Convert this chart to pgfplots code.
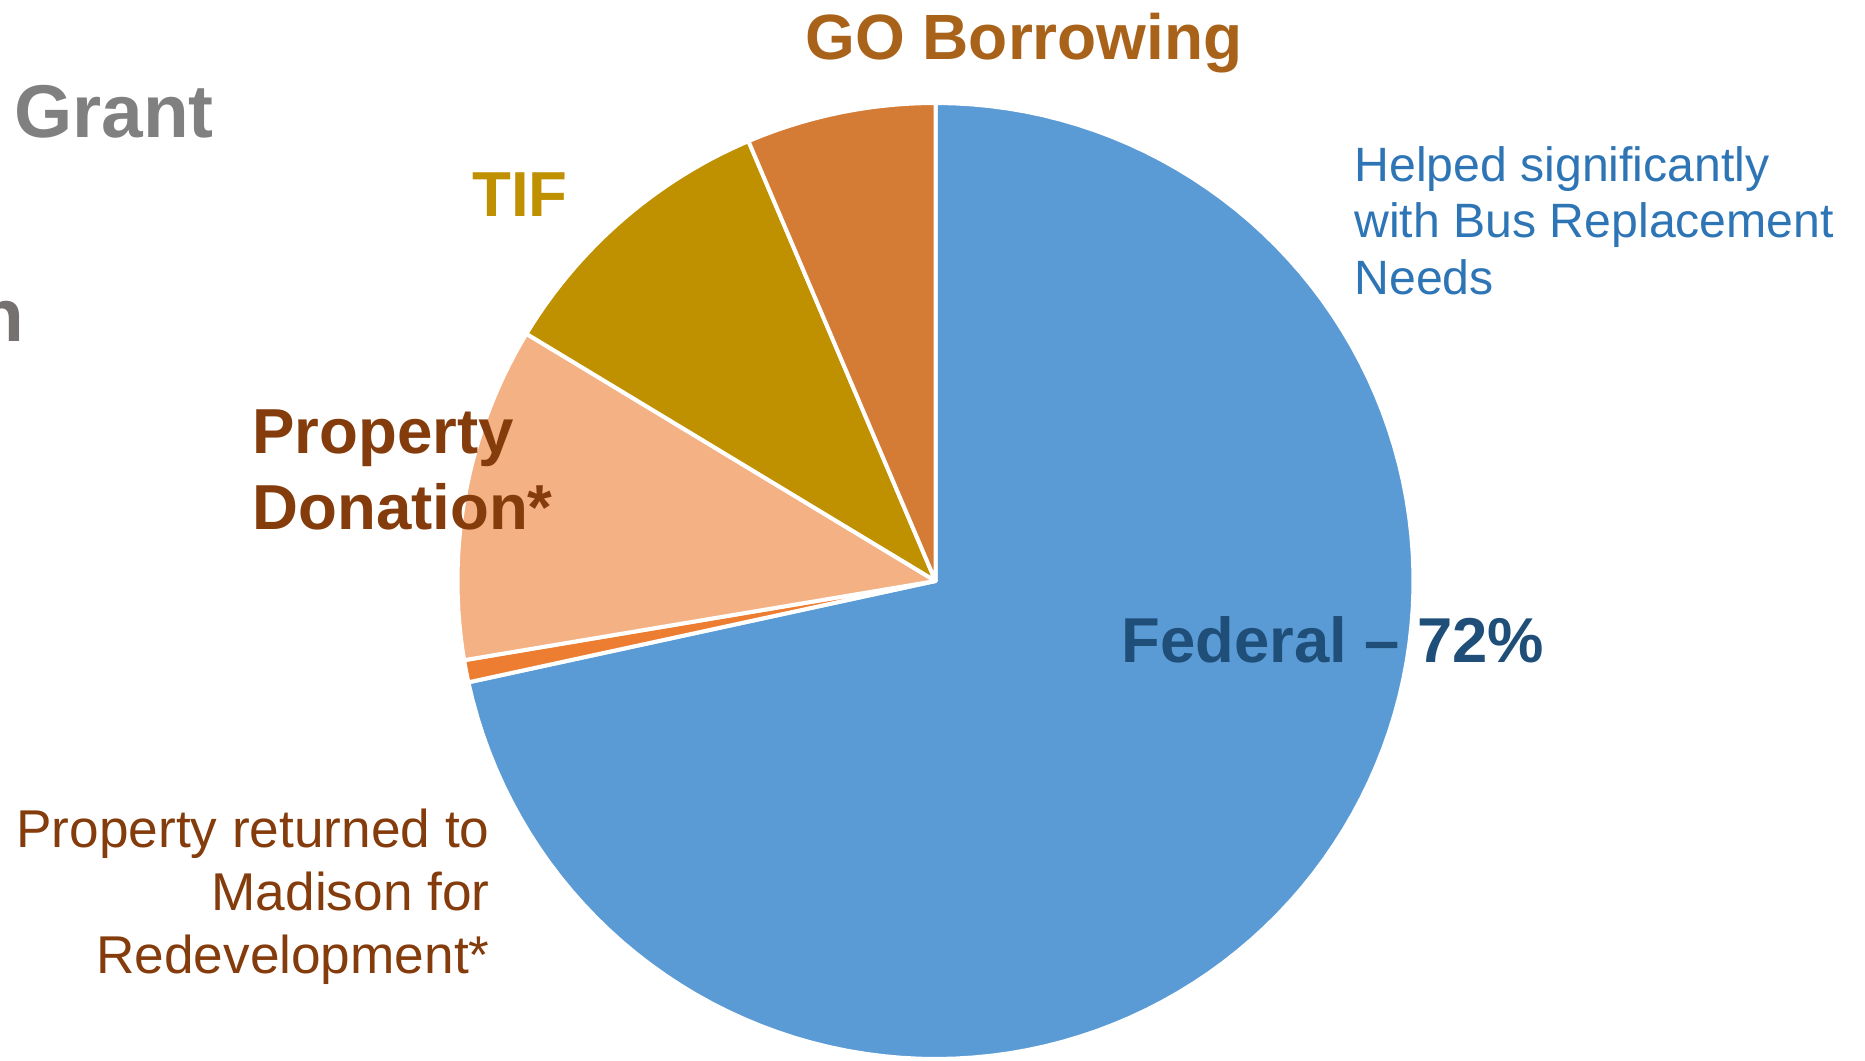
\documentclass[border=0pt]{standalone}
\usepackage{pgfplots}
\pgfplotsset{compat=1.18}
\usepackage{fontspec}
\setmainfont{Liberation Sans}
\definecolor{cFed}{HTML}{5B9BD5}
\definecolor{cRet}{HTML}{ED7D31}
\definecolor{cDon}{HTML}{F4B183}
\definecolor{cTIF}{HTML}{BF9000}
\definecolor{cGO}{HTML}{D47B35}
\definecolor{tGO}{HTML}{A8621A}
\definecolor{tGrant}{HTML}{808080}
\definecolor{tN}{HTML}{767171}
\definecolor{tBrown}{HTML}{843C0C}
\definecolor{tFed}{HTML}{1F4E79}
\definecolor{tHelp}{HTML}{2E75B6}
\begin{document}
\begin{tikzpicture}
\useasboundingbox (0pt,0pt) rectangle (932.5pt,530.5pt);
% shares of the pie, in percent
\def\vFed{71.6}
\def\vRet{0.75}
\def\vDon{11.3}
\def\vTIF{9.95}
\def\vGO{6.4}
\pgfmathsetmacro\aA{90-3.6*\vFed}
\pgfmathsetmacro\aB{\aA-3.6*\vRet}
\pgfmathsetmacro\aC{\aB-3.6*\vDon}
\pgfmathsetmacro\aD{\aC-3.6*\vTIF}
\pgfmathsetmacro\aE{\aD-3.6*\vGO}
\begin{axis}[at={(467.75pt,240pt)}, anchor=origin, hide axis,
  x=239pt, y=239pt, xmin=-1.1, xmax=1.1, ymin=-1.1, ymax=1.1,
  clip=false, scale only axis]
\addplot[fill=cFed, draw=white, line width=2pt, line join=round, domain=\aA:90, samples=120, variable=\t] ({cos(\t)},{sin(\t)}) -- (0,0) -- cycle;
\addplot[fill=cRet, draw=white, line width=2pt, line join=round, domain=\aB:\aA, samples=10, variable=\t] ({cos(\t)},{sin(\t)}) -- (0,0) -- cycle;
\addplot[fill=cDon, draw=white, line width=2pt, line join=round, domain=\aC:\aB, samples=30, variable=\t] ({cos(\t)},{sin(\t)}) -- (0,0) -- cycle;
\addplot[fill=cTIF, draw=white, line width=2pt, line join=round, domain=\aD:\aC, samples=30, variable=\t] ({cos(\t)},{sin(\t)}) -- (0,0) -- cycle;
\addplot[fill=cGO, draw=white, line width=2pt, line join=round, domain=\aE:\aD, samples=30, variable=\t] ({cos(\t)},{sin(\t)}) -- (0,0) -- cycle;
\end{axis}
% labels
\node[anchor=base west, inner sep=0pt, text=tGO, font=\fontsize{32pt}{38pt}\selectfont\bfseries] at (402.5pt,500.5pt) {GO Borrowing};
\node[anchor=base west, inner sep=0pt, text=tGrant, font=\fontsize{37.4pt}{44pt}\selectfont\bfseries] at (7pt,461.5pt) {Grant};
\node[anchor=base east, inner sep=0pt, text=tN, font=\fontsize{37.4pt}{44pt}\selectfont\bfseries] at (12.5pt,359.5pt) {n};
\node[anchor=base west, inner sep=0pt, text=cTIF, font=\fontsize{31.8pt}{37pt}\selectfont\bfseries] at (236pt,422pt) {TIF};
\node[anchor=base west, inner sep=0pt, text=tBrown, font=\fontsize{31.8pt}{37pt}\selectfont\bfseries] at (126pt,303.5pt) {Property};
\node[anchor=base west, inner sep=0pt, text=tBrown, font=\fontsize{31.8pt}{37pt}\selectfont\bfseries] at (126pt,265.5pt) {Donation*};
\node[anchor=base west, inner sep=0pt, text=tFed, font=\fontsize{31.7pt}{37pt}\selectfont\bfseries] at (560.5pt,199pt) {Federal – 72\%};
\node[anchor=base west, inner sep=0pt, text=tHelp, font=\fontsize{24.1pt}{29pt}\selectfont] at (677pt,439.5pt) {Helped significantly};
\node[anchor=base west, inner sep=0pt, text=tHelp, font=\fontsize{24.1pt}{29pt}\selectfont] at (677pt,411.5pt) {with Bus Replacement};
\node[anchor=base west, inner sep=0pt, text=tHelp, font=\fontsize{24.1pt}{29pt}\selectfont] at (677pt,383pt) {Needs};
\node[anchor=base east, inner sep=0pt, text=tBrown, font=\fontsize{26.6pt}{32pt}\selectfont] at (245pt,106.5pt) {Property returned to};
\node[anchor=base east, inner sep=0pt, text=tBrown, font=\fontsize{26.6pt}{32pt}\selectfont] at (245pt,75pt) {Madison for};
\node[anchor=base east, inner sep=0pt, text=tBrown, font=\fontsize{26.6pt}{32pt}\selectfont] at (245pt,43.5pt) {Redevelopment*};
\end{tikzpicture}
\end{document}
